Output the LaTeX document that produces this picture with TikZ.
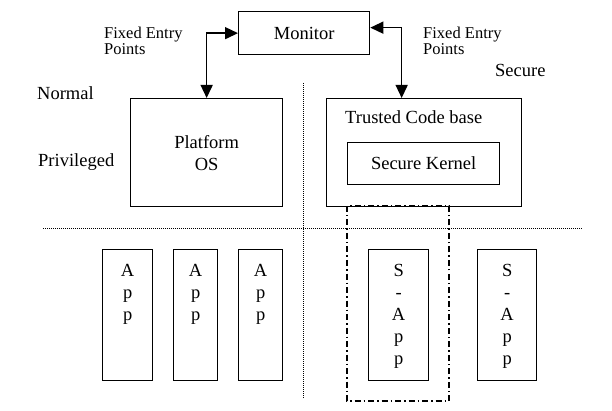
\documentclass[tikz,border=0pt]{standalone}
\usepackage{fontspec}
\setmainfont{Liberation Serif}
\usetikzlibrary{arrows.meta}
\begin{document}
\begin{tikzpicture}[x=1pt,y=-1pt,
 box/.style={draw,line width=1.3pt,inner sep=0pt,anchor=north west},
 txt/.style={inner sep=0pt,font=\fontsize{18.5}{22}\selectfont},
 small/.style={inner sep=0pt,font=\fontsize{16.5}{16}\selectfont,align=left,anchor=north west},
 biarrow/.style={line width=1.4pt,{Triangle[length=13pt,width=12pt]}-{Triangle[length=13pt,width=12pt]}},
 sepline/.style={line width=0.9pt,dash pattern=on 1pt off 1pt},
 dashdot/.style={line width=1.3pt,dash pattern=on 6pt off 3pt on 1.5pt off 3pt}]
\useasboundingbox (0,0) rectangle (612,411);
% separators
\coordinate (vt) at (303,83);
\coordinate (vb) at (303,398);
\coordinate (hl) at (43,228);
\coordinate (hr) at (583,228);
\draw[sepline] (vt) -- (vb);
\draw[sepline] (hl) -- (hr);
% main boxes
\node[box,txt,minimum width=131pt,minimum height=43pt] (mon) at (238,11) {Monitor};
\node[box,txt,align=center,minimum width=152pt,minimum height=108pt] (os) at (130,98) {Platform\\OS};
\node[box,minimum width=195pt,minimum height=108pt] (tcb) at (326,98) {};
\node[txt,anchor=base west] (tcbl) at (345,124) {Trusted Code base};
\node[box,txt,minimum width=152pt,minimum height=42pt] (sk) at (347,142) {Secure Kernel};
% dash-dot region
\draw[dashdot] (347,206) rectangle (449,401);
% apps
\node[box,minimum width=50pt,minimum height=131pt] (a1) at (102,249) {};
\node[box,minimum width=44pt,minimum height=131pt] (a2) at (173,249) {};
\node[box,minimum width=44pt,minimum height=131pt] (a3) at (238,249) {};
\node[box,minimum width=60pt,minimum height=131pt] (s1) at (368,249) {};
\node[box,minimum width=59pt,minimum height=131pt] (s2) at (477,249) {};
\foreach \b in {a1,a2,a3}
  \node[txt,align=center,anchor=north] (\b t) at ([yshift=-15.5pt]\b.north) {A\\p\\p};
\foreach \b in {s1,s2}
  \node[txt,align=center,anchor=north] (\b t) at ([yshift=-15.5pt]\b.north) {S\\-\\A\\p\\p};
% arrows
\draw[biarrow] (mon.west) -| (os.north);
\draw[biarrow] ([yshift=5.5pt]mon.east) -| ([xshift=-22.5pt]tcb.north);
% labels
\node[small] (fl) at (104,27) {Fixed Entry\\Points};
\node[small] (fr) at (423,27) {Fixed Entry\\Points};
\node[txt,anchor=base west] (sec) at (495,76.7) {Secure};
\node[txt,anchor=base west] (nor) at (37,100) {Normal};
\node[txt,anchor=base west] (pri) at (38,166.7) {Privileged};
\end{tikzpicture}
\end{document}
